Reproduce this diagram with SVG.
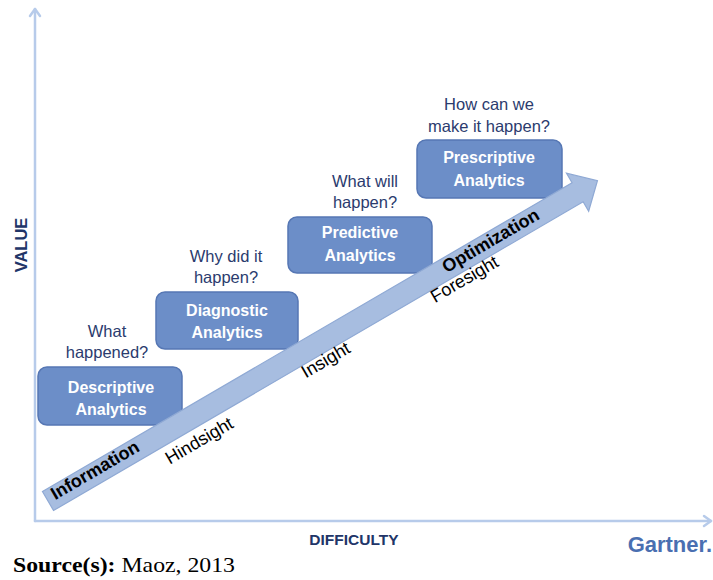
<svg xmlns="http://www.w3.org/2000/svg" width="713" height="580" viewBox="0 0 713 580">
<style>
.axis{fill:none;stroke:#b7cbea;stroke-width:2.5;stroke-linecap:round;stroke-linejoin:round}
.box{fill:#6c8ec8;stroke:#5677b4;stroke-width:1.5}
.bt{font-family:"Liberation Sans",Arial,sans-serif;font-weight:bold;font-size:16px;fill:#ffffff;text-anchor:middle}
.q{font-family:"Liberation Sans",Arial,sans-serif;font-size:16.5px;fill:#2b3b6e;text-anchor:middle}
.arr{fill:#a7bde0;stroke:#8fa9d4;stroke-width:1.2}
.at{font-family:"Liberation Sans",Arial,sans-serif;font-size:18px;fill:#000000}
.atb{font-family:"Liberation Sans",Arial,sans-serif;font-size:18px;font-weight:bold;fill:#000000}
.lab{font-family:"Liberation Sans",Arial,sans-serif;font-size:15.5px;font-weight:bold;fill:#213568}
</style>
<rect width="713" height="580" fill="#ffffff"/>
<g id="axes">
<line class="axis" x1="35" y1="521" x2="35" y2="9"/>
<polyline class="axis" points="30,16 35,9 40,16"/>
<line class="axis" x1="35" y1="521" x2="711" y2="521"/>
<polyline class="axis" points="704,516 711,521 704,526"/>
<text class="lab" transform="translate(27,245) rotate(-90)" text-anchor="middle" font-size="16.5px" style="font-size:16.5px">VALUE</text>
<text class="lab" x="354" y="545" text-anchor="middle">DIFFICULTY</text>
</g>
<g id="descriptive">
<rect class="box" x="38" y="367" width="144" height="58" rx="9"/>
<text class="bt" x="111" y="393">Descriptive</text>
<text class="bt" x="111" y="415">Analytics</text>
<text class="q" x="107" y="337">What</text>
<text class="q" x="107" y="358">happened?</text>
</g>
<g id="diagnostic">
<rect class="box" x="156" y="292" width="142" height="57" rx="9"/>
<text class="bt" x="227" y="316">Diagnostic</text>
<text class="bt" x="227" y="338">Analytics</text>
<text class="q" x="226" y="262">Why did it</text>
<text class="q" x="226" y="283">happen?</text>
</g>
<g id="predictive">
<rect class="box" x="288" y="217" width="144" height="56" rx="9"/>
<text class="bt" x="360" y="238">Predictive</text>
<text class="bt" x="360" y="261">Analytics</text>
<text class="q" x="365" y="187">What will</text>
<text class="q" x="365" y="208">happen?</text>
</g>
<g id="prescriptive">
<rect class="box" x="417" y="140" width="145" height="58" rx="9"/>
<text class="bt" x="489" y="163">Prescriptive</text>
<text class="bt" x="489" y="186">Analytics</text>
<text class="q" x="489" y="110">How can we</text>
<text class="q" x="489" y="132">make it happen?</text>
</g>
<g id="connectors">
<g transform="translate(48,501) rotate(-30.24)">
<path class="arr" d="M0,-11 H613 V-22 L636,0 L613,22 V11 H0 Z"/>
<text class="atb" x="6.5" y="3">Information</text>
<text class="atb" x="459" y="4">Optimization</text>
<text class="at" x="123.5" y="30">Hindsight</text>
<text class="at" x="284.5" y="24">Insight</text>
<text class="at" x="434" y="24">Foresight</text>
</g>
</g>
<text x="712" y="552" text-anchor="end" font-family="'Liberation Sans',Arial,sans-serif" font-weight="bold" font-size="22" fill="#4a6fb1">Gartner.</text>
<text x="13" y="572" font-family="'Liberation Serif','Times New Roman',serif" font-size="22" fill="#000000" textLength="222" lengthAdjust="spacingAndGlyphs"><tspan font-weight="bold">Source(s):</tspan> Maoz, 2013</text>
</svg>
